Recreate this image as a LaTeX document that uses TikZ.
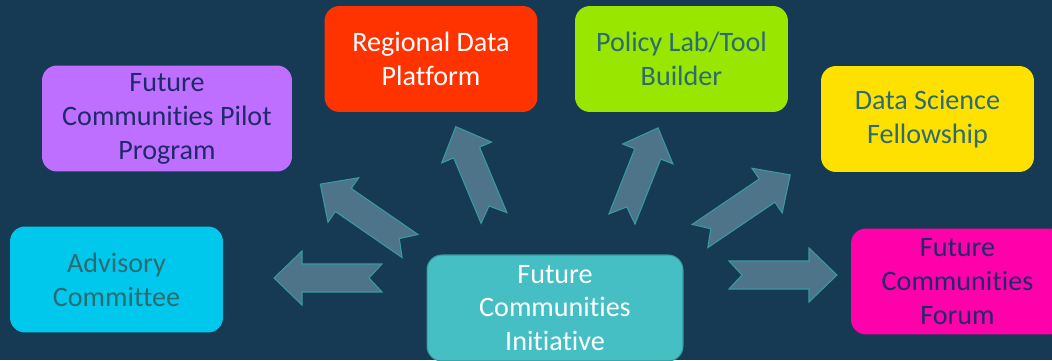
\documentclass[tikz,border=0pt]{standalone}
\usepackage{fontspec}
\setmainfont{Carlito}[Ligatures=NoCommon]
\usepackage{tikz}

\definecolor{bgblue}{HTML}{163A53}
\definecolor{arrowgrey}{HTML}{4E7489}
\definecolor{arrowedge}{HTML}{3A9A9E}
\definecolor{pilotpurple}{HTML}{BF6FFF}
\definecolor{regionalred}{HTML}{FF3300}
\definecolor{policygreen}{HTML}{99E600}
\definecolor{fellowyellow}{HTML}{FFE100}
\definecolor{advisorycyan}{HTML}{00C8EC}
\definecolor{forumpink}{HTML}{FF00AA}
\definecolor{initteal}{HTML}{45BFC3}
\definecolor{darknavy}{HTML}{1F2A6A}
\definecolor{darkteal}{HTML}{2D6B72}

\tikzset{
  box/.style={rectangle, rounded corners=8.5pt, minimum width=4.26cm,
    minimum height=2.12cm, align=center,
    font=\fontsize{16}{19.3}\selectfont},
  arrowfill/.style={fill=arrowgrey, draw=arrowedge, line width=0.6pt},
  pics/blockarrow/.style={code={
    \path[arrowfill]%
    (0,14)--(#1-28,14)--(#1-28,27)--(#1,0)--(#1-28,-27)--(#1-28,-14)--(0,-14)--(13,0)--cycle;
  }}
}

\begin{document}
\begin{tikzpicture}[x=0.02cm,y=0.02cm]
\useasboundingbox (0,0) rectangle (1052,360);
\clip (0,0) rectangle (1052,360);
\fill[bgblue] (0,0) rectangle (1052,360);

\node[box, fill=pilotpurple, text=darknavy, minimum width=5cm] (pilot) at (167,241.5)
  {Future\\Communities Pilot\\Program};
\node[box, fill=regionalred, text=white] (regional) at (431,301)
  {Regional Data\\Platform};
\node[box, fill=policygreen, text=darkteal] (policy) at (681.5,301)
  {Policy Lab/Tool\\Builder};
\node[box, fill=fellowyellow, text=darkteal] (fellow) at (927.5,241)
  {Data Science\\Fellowship};
\node[box, fill=advisorycyan, text=darkteal] (advisory) at (116.5,80.5)
  {Advisory\\Committee};
\node[box, fill=forumpink, text=darknavy] (forum) at (957.5,78.5)
  {Future\\Communities\\Forum};
\node[box, fill=initteal, draw=arrowedge, line width=0.6pt, text=white,
  minimum width=5.12cm] (init) at (555,52)
  {Future\\Communities\\Initiative};

\coordinate (t1) at (382,82);
\coordinate (t2) at (410,114);
\coordinate (t3) at (494,142);
\coordinate (t4) at (622,141);
\coordinate (t5) at (700,124);
\coordinate (t6) at (729,85);

\pic[rotate=180]   at (t1) {blockarrow=108};
\pic[rotate=145.4] at (t2) {blockarrow=109};
\pic[rotate=112.7] at (t3) {blockarrow=99};
\pic[rotate=68.4]  at (t4) {blockarrow=98};
\pic[rotate=34.1]  at (t5) {blockarrow=109};
\pic[rotate=0]     at (t6) {blockarrow=108};

\end{tikzpicture}
\end{document}
